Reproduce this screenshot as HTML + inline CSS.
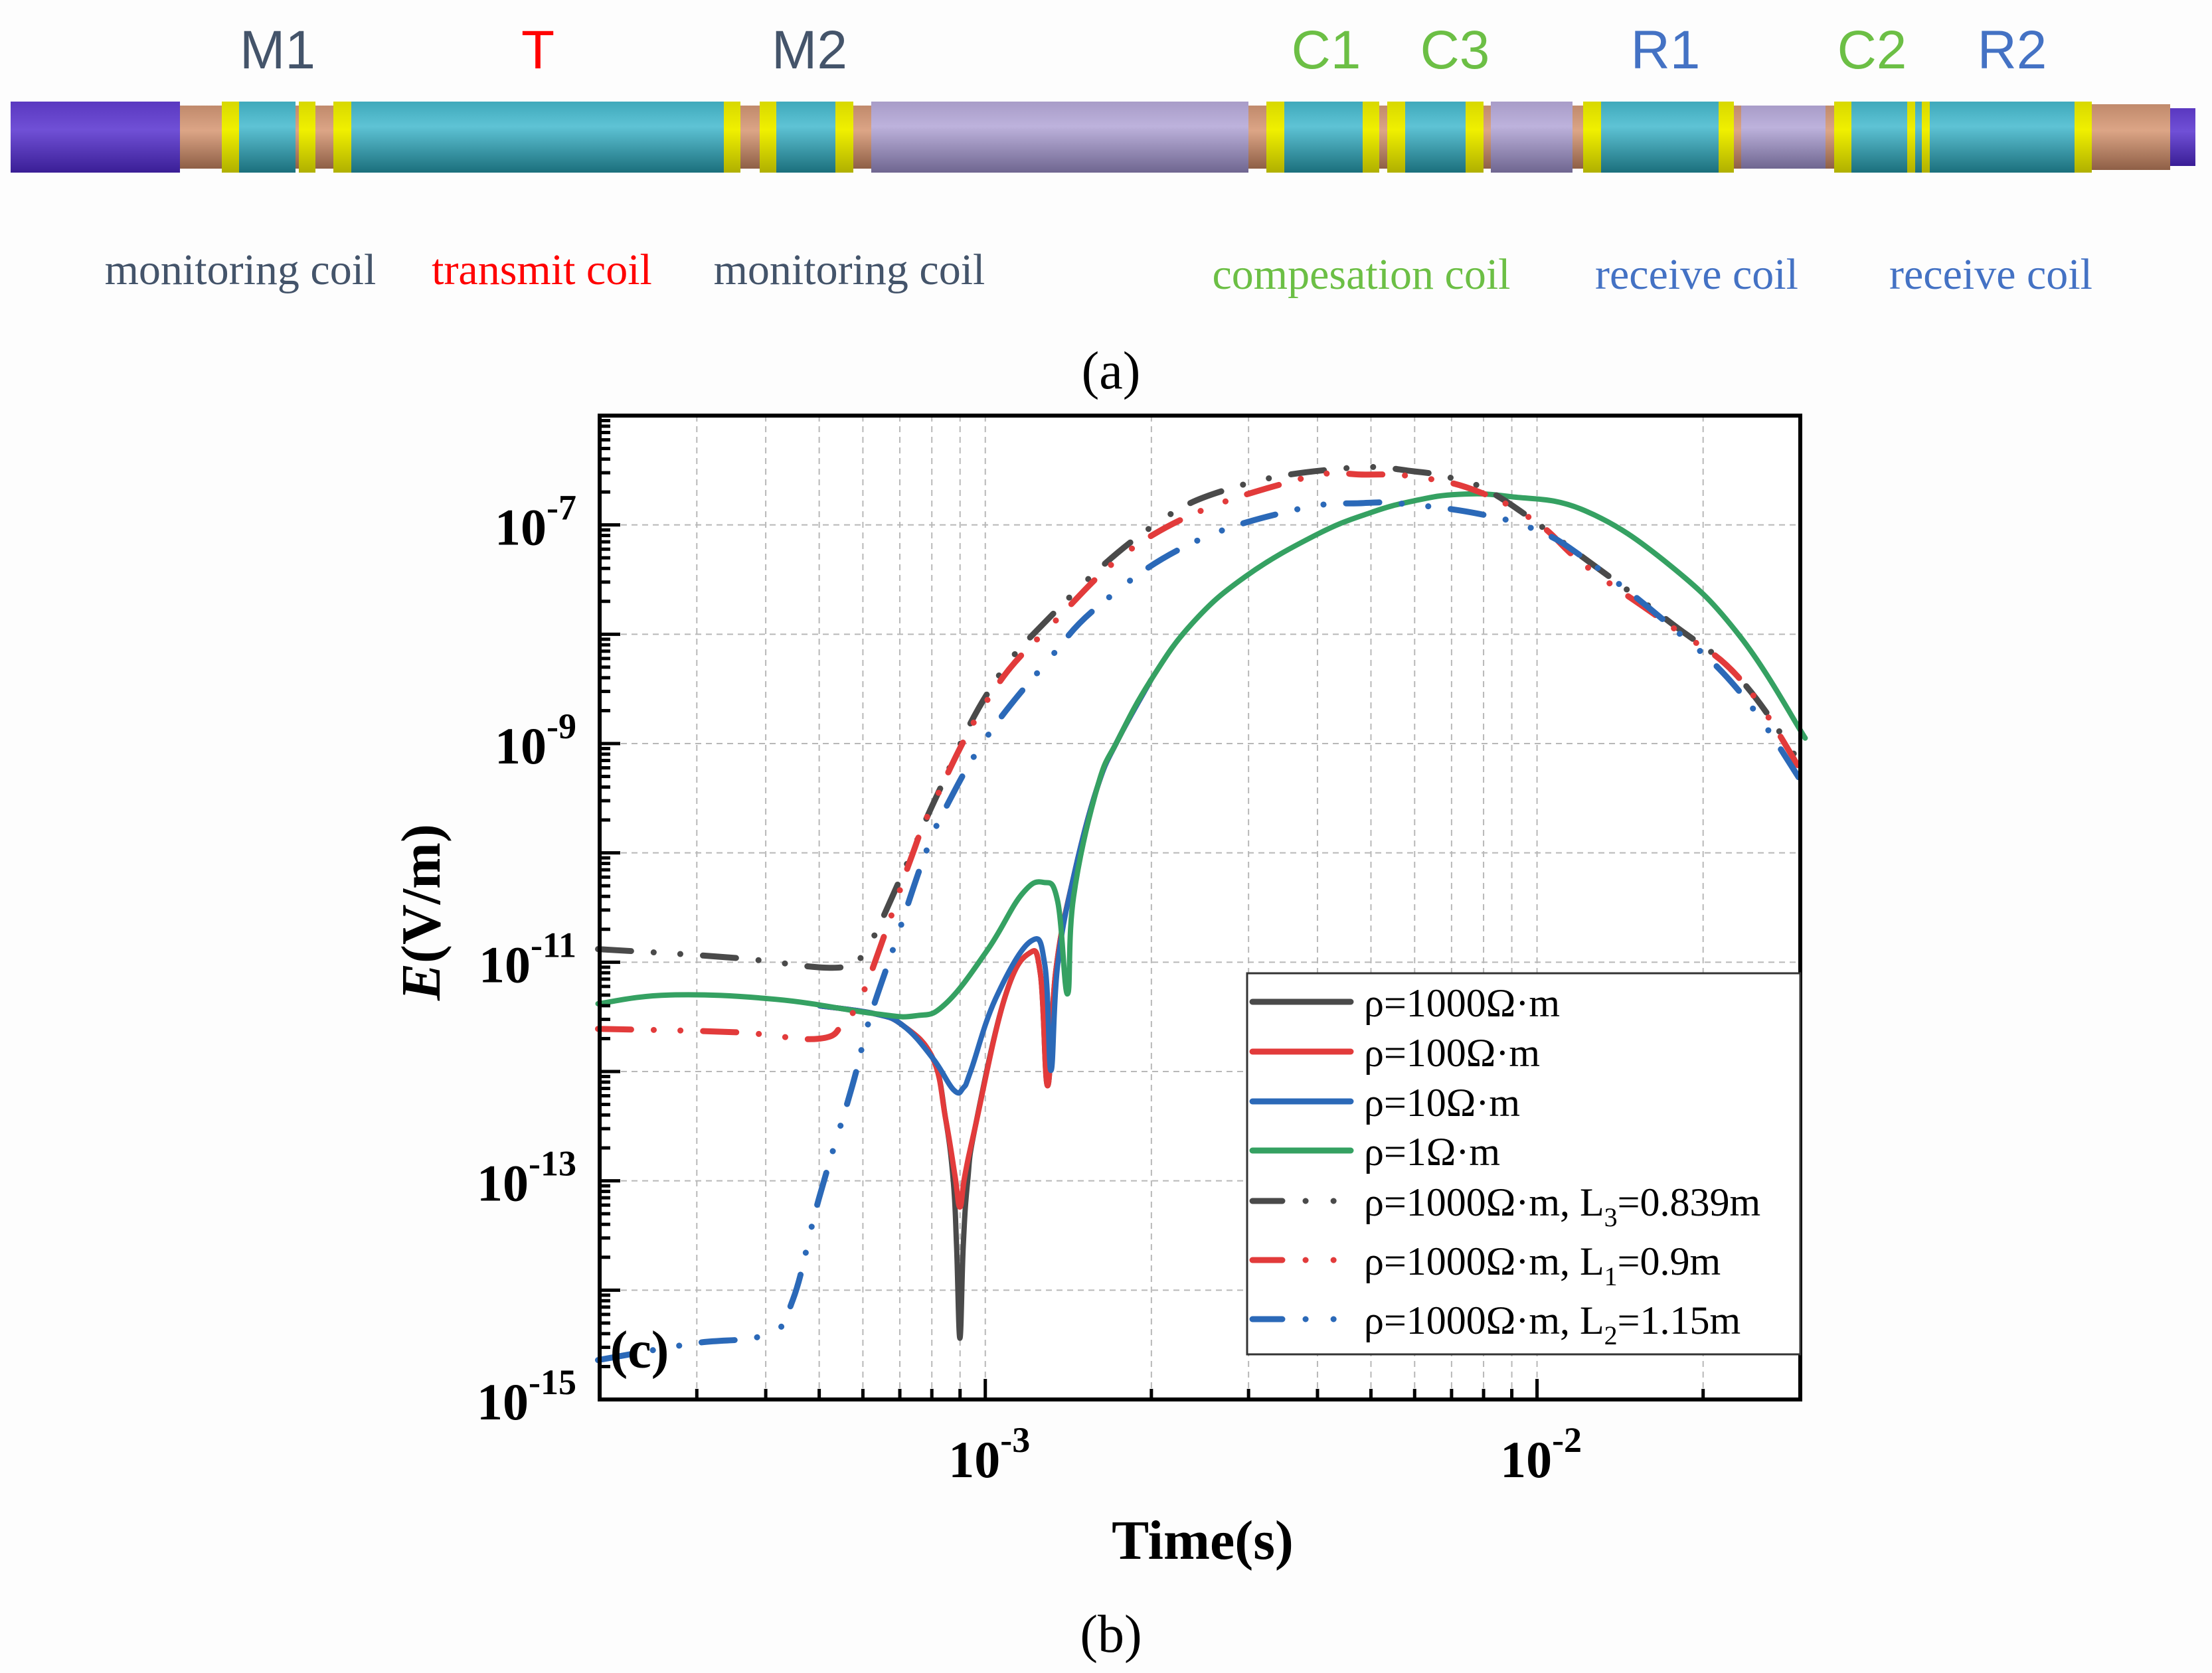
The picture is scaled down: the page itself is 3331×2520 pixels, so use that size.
<!DOCTYPE html>
<html><head><meta charset="utf-8"><style>
html,body{margin:0;padding:0;background:#fdfdfd;}
svg{display:block;}
</style></head><body>
<svg id="fig" xmlns="http://www.w3.org/2000/svg" width="3331" height="2520" viewBox="0 0 3331 2520">
<defs>
<linearGradient id="gCyan" x1="0" y1="0" x2="0" y2="1"><stop offset="0" stop-color="#3fa9bb"/><stop offset="0.35" stop-color="#5ec3d5"/><stop offset="1" stop-color="#1b6f7c"/></linearGradient>
<linearGradient id="gLav" x1="0" y1="0" x2="0" y2="1"><stop offset="0" stop-color="#a89cc8"/><stop offset="0.35" stop-color="#bdb2dc"/><stop offset="1" stop-color="#6f6690"/></linearGradient>
<linearGradient id="gCop" x1="0" y1="0" x2="0" y2="1"><stop offset="0" stop-color="#c08a6c"/><stop offset="0.4" stop-color="#dca586"/><stop offset="1" stop-color="#8e5f46"/></linearGradient>
<linearGradient id="gPur" x1="0" y1="0" x2="0" y2="1"><stop offset="0" stop-color="#5a38c0"/><stop offset="0.4" stop-color="#7050d6"/><stop offset="1" stop-color="#3a1e96"/></linearGradient>
<linearGradient id="gYel" x1="0" y1="0" x2="0" y2="1"><stop offset="0" stop-color="#d8d800"/><stop offset="0.4" stop-color="#f0f000"/><stop offset="1" stop-color="#b0b000"/></linearGradient>
</defs>
<g id="tool"></g>
<g font-family="'Liberation Sans', sans-serif" font-size="82" text-anchor="middle">
<text x="418" y="103" fill="#44546a">M1</text>
<text x="810" y="103" fill="#ff0000">T</text>
<text x="1219" y="103" fill="#44546a">M2</text>
<text x="1997" y="103" fill="#6cbf45">C1</text>
<text x="2191" y="103" fill="#6cbf45">C3</text>
<text x="2508" y="103" fill="#4472c4">R1</text>
<text x="2819" y="103" fill="#6cbf45">C2</text>
<text x="3030" y="103" fill="#4472c4">R2</text>
</g>
<g font-family="'Liberation Serif', serif" font-size="66" text-anchor="middle">
<text x="362" y="428" fill="#44546a">monitoring coil</text>
<text x="816" y="428" fill="#ff0000">transmit coil</text>
<text x="1279" y="428" fill="#44546a">monitoring coil</text>
<text x="2050" y="435" fill="#6cbf45">compesation coil</text>
<text x="2555" y="435" fill="#4472c4">receive coil</text>
<text x="2998" y="435" fill="#4472c4">receive coil</text>
</g>
<text x="1673" y="585" font-family="'Liberation Serif', serif" font-size="80" text-anchor="middle">(a)</text>
<text x="1673" y="2488" font-family="'Liberation Serif', serif" font-size="80" text-anchor="middle">(b)</text>

<rect x="903" y="626" width="1808" height="1482" fill="#ffffff"/>
<g id="grid"></g>
<g id="series"></g>
<g id="axes"></g>
<g id="legend"></g>
<text x="963" y="2060" font-family="'Liberation Serif', serif" font-weight="bold" font-size="80" text-anchor="middle">(c)</text>
<text x="1811" y="2348" font-family="'Liberation Serif', serif" font-weight="bold" font-size="84" text-anchor="middle">Time(s)</text>
<text transform="translate(662,1374) rotate(-90)" font-family="'Liberation Serif', serif" font-weight="bold" font-size="84" text-anchor="middle"><tspan font-style="italic">E</tspan>(V/m)</text>
</svg>
<script>
// ---- chart data (log10 of time in s, log10 of E in V/m) ----
const xDomainLog = [Math.log10(2e-4), Math.log10(3e-2)];
const yDomainLog = [-15, -6];
const yLabelExps = [-7, -9, -11, -13, -15];
const xLabelExps = [-3, -2];

const tSolid1000 = [-3.30,-3.202,-3.149,-3.095,-3.072,-3.058,-3.052,-3.046,-3.040,-3.032,-3.018,-2.965,-2.921,-2.900,-2.887,-2.872,-2.840,-2.797,-2.759,-2.70];
const eSolid1000 = [-11.40,-11.47,-11.58,-11.88,-12.43,-13.0,-13.6,-14.44,-13.6,-13.0,-12.50,-11.33,-10.92,-11.11,-12.13,-11.07,-10.22,-9.40,-8.96,-8.42];
const tSolid100 = [-3.30,-3.202,-3.149,-3.095,-3.072,-3.055,-3.046,-3.037,-3.018,-2.965,-2.921,-2.900,-2.887,-2.872,-2.840,-2.797,-2.759,-2.70];
const eSolid100 = [-11.40,-11.47,-11.58,-11.88,-12.43,-12.95,-13.24,-12.95,-12.50,-11.33,-10.92,-11.11,-12.13,-11.07,-10.22,-9.40,-8.96,-8.42];
const tSolid10 = [-3.30,-3.202,-3.149,-3.095,-3.057,-3.040,-3.026,-2.981,-2.918,-2.892,-2.881,-2.869,-2.840,-2.797,-2.759,-2.70];
const eSolid10 = [-11.40,-11.47,-11.58,-11.88,-12.17,-12.15,-11.99,-11.33,-10.81,-11.03,-11.99,-11.03,-10.22,-9.40,-8.96,-8.42];
const tSolid1 = [-3.702,-3.572,-3.379,-3.202,-3.126,-3.072,-2.995,-2.934,-2.895,-2.869,-2.851,-2.840,-2.797,-2.759,-2.700,-2.625,-2.528,-2.400,-2.303,-2.223,-2.142,-2.05,-1.913,-1.759,-1.632,-1.514];
const eSolid1 = [-11.38,-11.30,-11.34,-11.47,-11.49,-11.38,-10.88,-10.38,-10.27,-10.44,-11.29,-10.40,-9.40,-8.96,-8.42,-7.90,-7.47,-7.09,-6.89,-6.78,-6.72,-6.74,-6.87,-7.37,-8.02,-8.95];
const tL3 = [-3.702,-3.456,-3.288,-3.241,-3.211,-3.149,-3.088,-2.996,-2.888,-2.705,-2.545,-2.343,-2.223,-2.142,-2.067,-1.913,-1.759,-1.632,-1.514];
const eL3 = [-10.88,-10.96,-11.05,-10.99,-10.85,-10.18,-9.48,-8.54,-7.87,-7.04,-6.65,-6.48,-6.51,-6.59,-6.75,-7.31,-7.89,-8.41,-9.25];
const tL1 = [-3.702,-3.456,-3.302,-3.256,-3.226,-3.179,-3.134,-3.095,-2.996,-2.885,-2.696,-2.437,-2.308,-2.206,-2.104,-2.0,-1.913,-1.759,-1.632,-1.514];
const eL1 = [-11.61,-11.64,-11.70,-11.54,-11.33,-10.70,-10.04,-9.56,-8.60,-7.94,-7.09,-6.59,-6.54,-6.57,-6.70,-6.98,-7.37,-7.92,-8.41,-9.31];
const tL2 = [-3.702,-3.533,-3.395,-3.349,-3.302,-3.241,-3.211,-3.165,-3.111,-3.072,-2.996,-2.888,-2.792,-2.631,-2.437,-2.314,-2.236,-2.104,-2.0,-1.913,-1.759,-1.632,-1.514];
const eL2 = [-14.64,-14.49,-14.40,-14.09,-13.17,-12.13,-11.54,-10.85,-10.04,-9.59,-8.93,-8.25,-7.73,-7.18,-6.86,-6.80,-6.81,-6.90,-7.05,-7.31,-7.92,-8.53,-9.40];
const legendLabels = ["ρ=1000Ω·m","ρ=100Ω·m","ρ=10Ω·m","ρ=1Ω·m","ρ=1000Ω·m, L|3|=0.839m","ρ=1000Ω·m, L|1|=0.9m","ρ=1000Ω·m, L|2|=1.15m"];

const NS = "http://www.w3.org/2000/svg";
const PX0 = 903, PX1 = 2711, PY0 = 626, PY1 = 2108;
function xs(l){ return PX0 + (l - xDomainLog[0]) / (xDomainLog[1] - xDomainLog[0]) * (PX1 - PX0); }
function ys(l){ return PY1 - (l - yDomainLog[0]) / (yDomainLog[1] - yDomainLog[0]) * (PY1 - PY0); }
function mk(tag, attrs, parent){ const e = document.createElementNS(NS, tag); for (const k in attrs) e.setAttribute(k, attrs[k]); parent.appendChild(e); return e; }
function smoothPath(P){
  let d = 'M' + P[0][0].toFixed(1) + ',' + P[0][1].toFixed(1);
  const k = 0.2;
  for (let i = 0; i < P.length - 1; i++) {
    const p0 = P[Math.max(0, i-1)], p1 = P[i], p2 = P[i+1], p3 = P[Math.min(P.length-1, i+2)];
    const c1 = [p1[0] + (p2[0]-p0[0])*k, p1[1] + (p2[1]-p0[1])*k];
    const c2 = [p2[0] - (p3[0]-p1[0])*k, p2[1] - (p3[1]-p1[1])*k];
    d += ' C' + c1[0].toFixed(1) + ',' + c1[1].toFixed(1) + ' ' + c2[0].toFixed(1) + ',' + c2[1].toFixed(1) + ' ' + p2[0].toFixed(1) + ',' + p2[1].toFixed(1);
  }
  return d;
}

// ---- tool diagram ----
const tool = document.getElementById('tool');
const Y0 = 153, Y1 = 260;
const segs = [
 [16,271,'gPur',0],[271,336,'gCop',6],[334,360,'gYel',0],[360,445,'gCyan',0],[445,450,'gCop',6],[450,475,'gYel',0],[475,502,'gCop',6],[502,529,'gYel',0],
 [529,1090,'gCyan',0],[1090,1115,'gYel',0],[1115,1144,'gCop',6],[1144,1169,'gYel',0],[1169,1258,'gCyan',0],[1258,1285,'gYel',0],[1285,1312,'gCop',6],
 [1312,1880,'gLav',0],[1880,1907,'gCop',6],[1907,1934,'gYel',0],[1934,2052,'gCyan',0],[2052,2077,'gYel',0],[2077,2089,'gCop',6],[2089,2116,'gYel',0],
 [2116,2207,'gCyan',0],[2207,2234,'gYel',0],[2234,2245,'gCop',6],[2245,2368,'gLav',0],[2368,2384,'gCop',6],[2384,2411,'gYel',0],[2411,2588,'gCyan',0],
 [2588,2611,'gYel',0],[2611,2622,'gCop',6],[2622,2749,'gLav',6],[2749,2762,'gCop',6],[2762,2788,'gYel',0],[2788,2872,'gCyan',0],[2872,2884,'gYel',0],
 [2884,2894,'gCyan',0],[2894,2906,'gYel',0],[2906,3124,'gCyan',0],[3124,3150,'gYel',0],[3150,3268,'gCop',4],[3268,3306,'gPur',10]
];
for (const s of segs) {
  const r = mk('rect', {x:s[0], y:Y0+s[3], width:s[1]-s[0], height:(Y1-Y0)-2*s[3], fill:'url(#'+s[2]+')'}, tool);
  
  
}

// ---- grid ----
const grid = document.getElementById('grid');
const gridStyle = {stroke:'#b8b8b8', 'stroke-width':2, 'stroke-dasharray':'9 7'};
const xTickVals = [];
for (let d = -4; d <= -2; d++) for (let m = 1; m <= 9; m++) {
  const v = d + Math.log10(m);
  if (v > xDomainLog[0] + 0.001 && v < xDomainLog[1] - 0.001) xTickVals.push({v:v, major: m === 1});
}
for (const t of xTickVals) {
  const l = mk('line', Object.assign({x1:xs(t.v), x2:xs(t.v), y1:PY0, y2:PY1}, gridStyle), grid);
  
  
}
for (let d = -14; d <= -7; d++) {
  const l = mk('line', Object.assign({x1:PX0, x2:PX1, y1:ys(d), y2:ys(d)}, gridStyle), grid);
  
  
}

// ---- series ----
const ser = document.getElementById('series');
const dashDot = '50 34 0.1 40 0.1 34';
const seriesDefs = [
  {t:tSolid1000, e:eSolid1000, c:'#4a4a4a', dash:null, name:'series-rho-1000'},
  {t:tSolid100, e:eSolid100, c:'#e23b3b', dash:null, name:'series-rho-100'},
  {t:tSolid10, e:eSolid10, c:'#2b69b8', dash:null, name:'series-rho-10'},
  {t:tSolid1, e:eSolid1, c:'#35a162', dash:null, name:'series-rho-1'},
  {t:tL3, e:eL3, c:'#4a4a4a', dash:dashDot, name:'series-rho-1000-l3'},
  {t:tL1, e:eL1, c:'#e23b3b', dash:dashDot, name:'series-rho-1000-l1'},
  {t:tL2, e:eL2, c:'#2b69b8', dash:dashDot, name:'series-rho-1000-l2'}
];
for (const s of seriesDefs) {
  const P = s.t.map((v, i) => [xs(v), ys(s.e[i])]);
  const a = {d:smoothPath(P), fill:'none', stroke:s.c, 'stroke-width':8, 'stroke-linejoin':'round', 'stroke-linecap':'round'};
  if (s.dash) { a['stroke-dasharray'] = s.dash; a['stroke-width'] = 9; }
  const p = mk('path', a, ser);
  
  
}

// ---- axes ----
const axes = document.getElementById('axes');
for (let d = -15; d < -6; d++) for (let m = 1; m <= 9; m++) {
  const v = d + Math.log10(m);
  if (v <= yDomainLog[0] || v >= yDomainLog[1]) continue;
  const len = m === 1 ? 31 : 16;
  const tk = mk('line', {x1:PX0, x2:PX0+len, y1:ys(v), y2:ys(v), stroke:'#000', 'stroke-width':5}, axes);
  
  
}
for (const t of xTickVals) {
  const len = t.major ? 31 : 16;
  const tk = mk('line', {x1:xs(t.v), x2:xs(t.v), y1:PY1, y2:PY1-len, stroke:'#000', 'stroke-width':5}, axes);
  
  
}
const frame = mk('rect', {x:PX0, y:PY0, width:PX1-PX0, height:PY1-PY0, fill:'none', stroke:'#000', 'stroke-width':6}, axes);


for (const e of yLabelExps) {
  const tx = mk('text', {x:868, y:ys(e)+30, 'text-anchor':'end', 'font-family':"'Liberation Serif', serif", 'font-weight':'bold', 'font-size':78}, axes);
  
  
  tx.appendChild(document.createTextNode('10'));
  const sp = mk('tspan', {dy:-38, 'font-size':54}, tx);
  sp.textContent = String(e);
}
for (const e of xLabelExps) {
  const tx = mk('text', {x:xs(e)+6, y:2225, 'text-anchor':'middle', 'font-family':"'Liberation Serif', serif", 'font-weight':'bold', 'font-size':78}, axes);
  
  
  tx.appendChild(document.createTextNode('10'));
  const sp = mk('tspan', {dy:-38, 'font-size':54}, tx);
  sp.textContent = String(e);
}

// ---- legend ----
const leg = document.getElementById('legend');
const lb = mk('rect', {x:1878, y:1466, width:833, height:574, fill:'#fff', stroke:'#333', 'stroke-width':3}, leg);


const rowY = [1509, 1584, 1659, 1733, 1809, 1898, 1987];
seriesDefs.forEach((s, i) => {
  const g = mk('g', {}, leg);
  
  
  const a = {x1:1886, x2:2034, y1:rowY[i], y2:rowY[i], stroke:s.c, 'stroke-width':9, 'stroke-linecap':'round'};
  if (s.dash) a['stroke-dasharray'] = '45 35 0.1 42 0.1 200';
  const ln = mk('line', a, g);
  
  
  const tx = mk('text', {x:2054, y:rowY[i]+22, 'font-family':"'Liberation Serif', serif", 'font-size':60, fill:'#000'}, g);
  
  
  const parts = legendLabels[i].split('|');
  parts.forEach((p, j) => {
    const sp = mk('tspan', {}, tx);
    if (j === 1) { sp.setAttribute('font-size', 40); sp.setAttribute('dy', 16); }
    else if (j === 2) { sp.setAttribute('dy', -16); }
    sp.textContent = p;
  });
});
</script>
</body></html>
